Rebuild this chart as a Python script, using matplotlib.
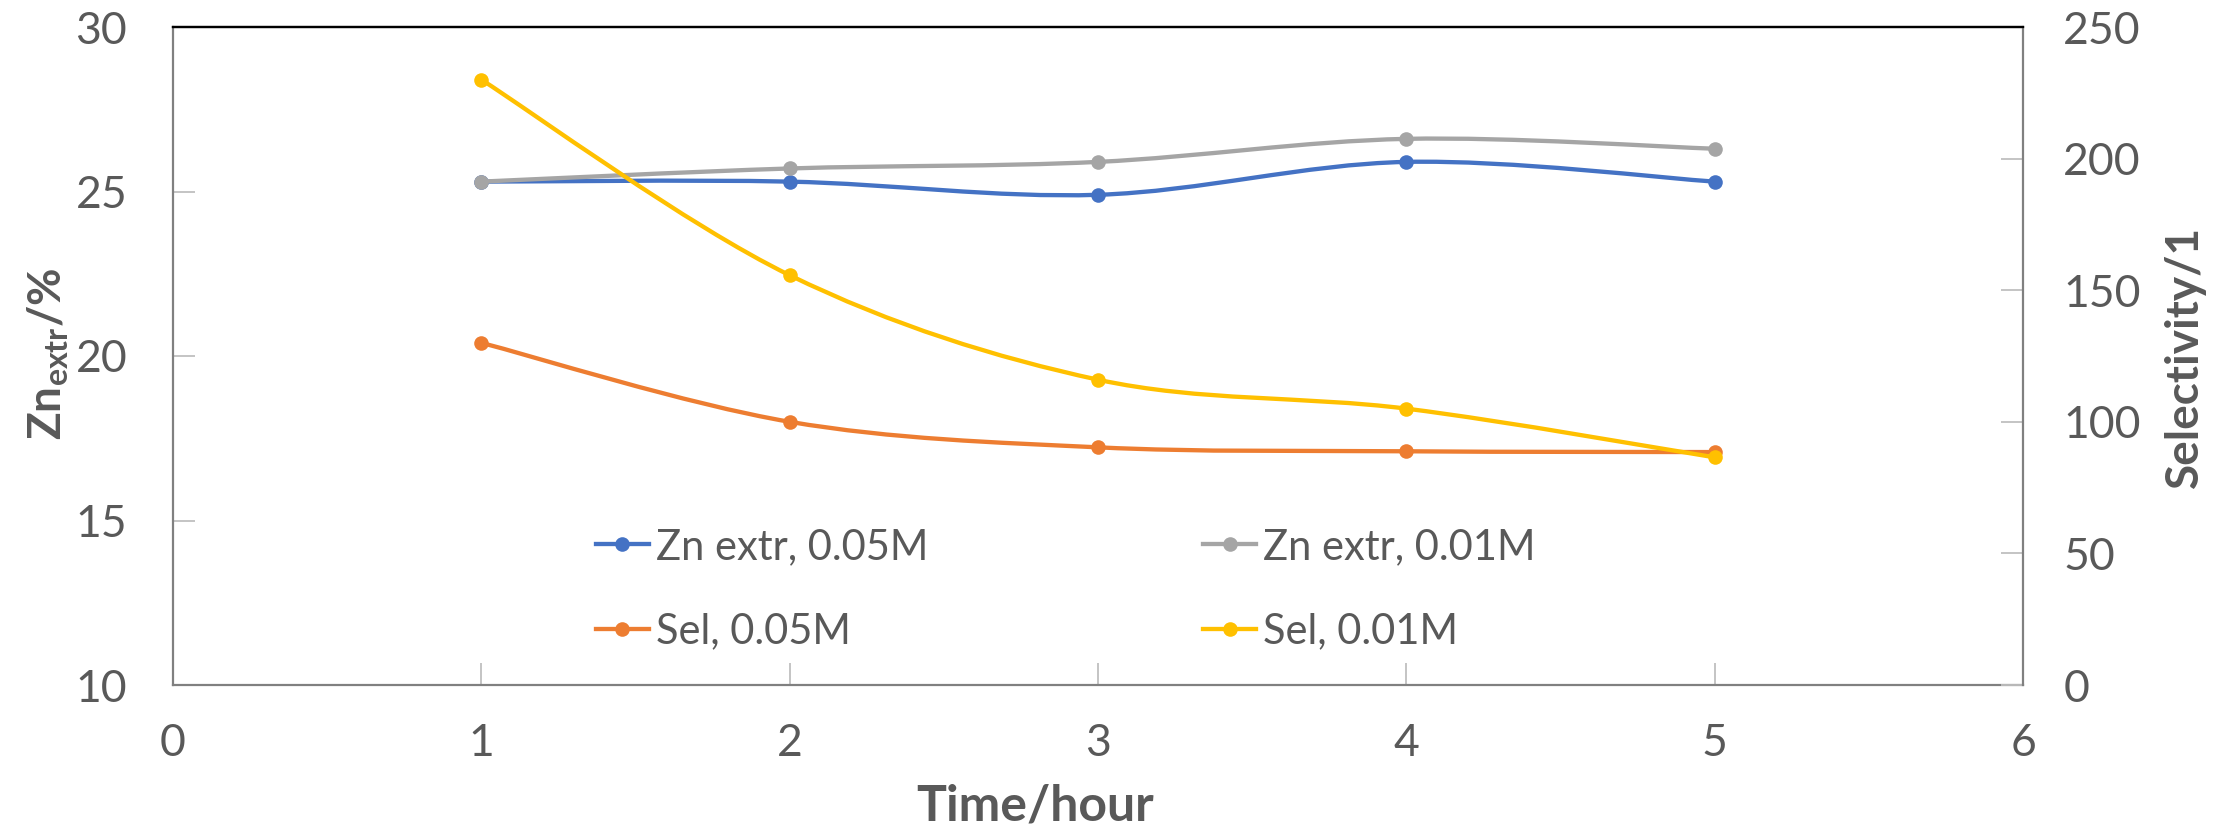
import numpy as np
import matplotlib
matplotlib.use("Agg")
import matplotlib.pyplot as plt
from matplotlib.path import Path
from matplotlib.patches import PathPatch
from matplotlib.lines import Line2D

# ---- data ----
time_h = [1, 2, 3, 4, 5]
zn_extr_005 = [25.3, 25.3, 24.9, 25.9, 25.3]
zn_extr_001 = [25.3, 25.7, 25.9, 26.6, 26.3]
sel_005 = [130, 100, 90.3, 88.8, 88.5]
sel_001 = [230, 155.7, 116, 105, 86.5]

labels = ["Zn extr, 0.05M", "Zn extr, 0.01M", "Sel, 0.05M", "Sel, 0.01M"]
colors = ["#4472C4", "#A5A5A5", "#ED7D31", "#FFC000"]

x_ticks = [0, 1, 2, 3, 4, 5, 6]
left_ticks = [10, 15, 20, 25, 30]
right_ticks = [0, 50, 100, 150, 200, 250]

# ---- style ----
plt.rcParams["font.family"] = ["Lato", "DejaVu Sans"]
plt.rcParams["mathtext.fontset"] = "custom"
plt.rcParams["mathtext.rm"] = "Lato"
plt.rcParams["mathtext.bf"] = "Lato:bold"
plt.rcParams["mathtext.it"] = "Lato:italic"

TXT = "#595959"
SPINE = "#808080"
TICK = "#BFBFBF"
FS_TICK = 32
FS_LEG = 30
LW = 3.1
MS = 10.5

W, H, DPI = 2236, 834, 100
fig = plt.figure(figsize=(W / DPI, H / DPI), dpi=DPI)
L, R, T, B = 173, 2023, 27, 685
ax = fig.add_axes([L / W, 1 - B / H, (R - L) / W, (B - T) / H])
ax2 = ax.twinx()


def smooth_curve(axis, xs, ys, color, z):
    """Draw a smoothed line through the points as a cubic Bezier path."""
    pts = np.column_stack([xs, ys]).astype(float)
    n = len(pts)
    verts = [pts[0]]
    codes = [Path.MOVETO]
    for i in range(n - 1):
        p0 = pts[i - 1] if i > 0 else pts[i]
        p1 = pts[i]
        p2 = pts[i + 1]
        p3 = pts[i + 2] if i + 2 < n else pts[i + 1]
        c1 = p1 + (p2 - p0) / 6.0
        c2 = p2 - (p3 - p1) / 6.0
        verts += [c1, c2, p2]
        codes += [Path.CURVE4] * 3
    patch = PathPatch(Path(verts, codes), facecolor="none", edgecolor=color,
                      lw=LW, capstyle="round", joinstyle="round",
                      transform=axis.transData, zorder=z)
    axis.add_patch(patch)
    axis.plot(xs, ys, linestyle="none", marker="o", ms=MS, color=color,
              markeredgewidth=0, zorder=z + 0.1)


smooth_curve(ax, time_h, zn_extr_005, colors[0], 3)
smooth_curve(ax, time_h, zn_extr_001, colors[1], 4)
smooth_curve(ax2, time_h, sel_005, colors[2], 3)
smooth_curve(ax2, time_h, sel_001, colors[3], 4)

ax.set_xlim(0, 6)
ax.set_ylim(10, 30)
ax2.set_ylim(0, 250)
ax.set_xticks(x_ticks)
ax.set_yticks(left_ticks)
ax2.set_yticks(right_ticks)

ax.tick_params(axis="both", direction="in", length=16, width=1.3, color=TICK,
               labelsize=FS_TICK, labelcolor=TXT)
ax.tick_params(axis="y", pad=33)
ax.tick_params(axis="x", pad=27)
ax2.tick_params(axis="y", direction="in", length=16, width=1.3, color=TICK,
                labelsize=FS_TICK, labelcolor=TXT, pad=29)

for a in (ax, ax2):
    for side in ("left", "right", "bottom"):
        a.spines[side].set_color(SPINE)
        a.spines[side].set_linewidth(1.6)
    a.spines["top"].set_color("black")
    a.spines["top"].set_linewidth(1.6)
ax.spines["right"].set_visible(False)
ax2.spines["left"].set_visible(False)
ax2.spines["bottom"].set_visible(False)

# axis titles
fig.text(48 / W, 1 - 354 / H, r"$\mathbf{Zn_{extr}/\%}$", rotation=90,
         ha="center", va="center", fontsize=33, color=TXT)
fig.text(2185 / W, 1 - 357 / H, "Selectivity/1", rotation=90, ha="center",
         va="center", fontsize=33, fontweight="bold", color=TXT)
fig.text(1035 / W, 1 - 806 / H, "Time/hour", ha="center", va="center",
         fontsize=36, fontweight="bold", color=TXT)

# legend (two columns)
handles = [Line2D([], [], color=c, lw=LW, marker="o", ms=MS, markeredgewidth=0)
           for c in colors]
order = [0, 2, 1, 3]
leg = fig.legend([handles[i] for i in order], [labels[i] for i in order],
                 ncol=2, loc="upper left", bbox_to_anchor=(596 / W, 1 - 528 / H),
                 frameon=False, fontsize=FS_LEG, handlelength=1.27,
                 handletextpad=0.17, columnspacing=6.6, labelspacing=1.11,
                 borderpad=0, borderaxespad=0)
for t in leg.get_texts():
    t.set_color(TXT)

fig.savefig("out.png", dpi=DPI, facecolor="white")
